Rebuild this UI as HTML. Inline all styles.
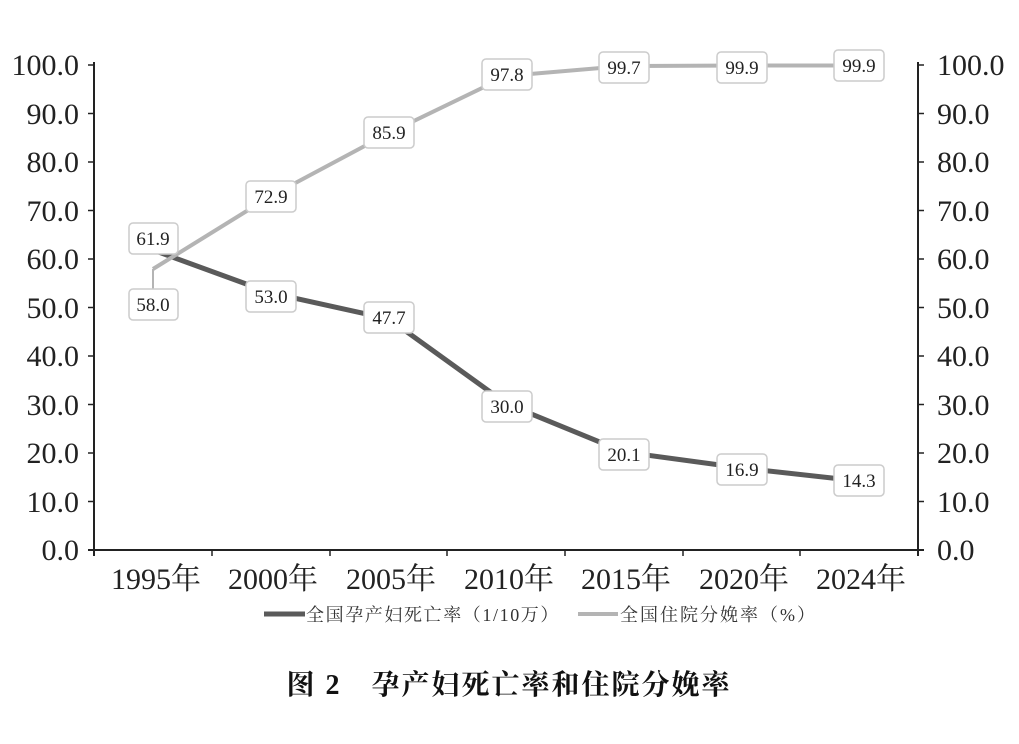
<!DOCTYPE html>
<html><head><meta charset="utf-8"><style>
body{margin:0;background:#fff;width:1019px;height:739px;overflow:hidden}
svg text{font-family:"Liberation Serif","Noto Serif CJK SC",serif}
</style></head><body>
<svg width="1019" height="739" viewBox="0 0 1019 739" xmlns="http://www.w3.org/2000/svg">
<g stroke="#222" stroke-width="2" fill="none">
<line x1="94" y1="62" x2="94" y2="556"/>
<line x1="918" y1="62" x2="918" y2="556"/>
<line x1="88" y1="550" x2="924" y2="550"/>
</g>
<g stroke="#222" stroke-width="1.5">
<line x1="88" y1="65" x2="94" y2="65"/><line x1="88" y1="113.5" x2="94" y2="113.5"/><line x1="88" y1="162" x2="94" y2="162"/><line x1="88" y1="210.5" x2="94" y2="210.5"/><line x1="88" y1="259" x2="94" y2="259"/><line x1="88" y1="307.5" x2="94" y2="307.5"/><line x1="88" y1="356" x2="94" y2="356"/><line x1="88" y1="404.5" x2="94" y2="404.5"/><line x1="88" y1="453" x2="94" y2="453"/><line x1="88" y1="501.5" x2="94" y2="501.5"/>
<line x1="918" y1="65" x2="924" y2="65"/><line x1="918" y1="113.5" x2="924" y2="113.5"/><line x1="918" y1="162" x2="924" y2="162"/><line x1="918" y1="210.5" x2="924" y2="210.5"/><line x1="918" y1="259" x2="924" y2="259"/><line x1="918" y1="307.5" x2="924" y2="307.5"/><line x1="918" y1="356" x2="924" y2="356"/><line x1="918" y1="404.5" x2="924" y2="404.5"/><line x1="918" y1="453" x2="924" y2="453"/><line x1="918" y1="501.5" x2="924" y2="501.5"/>
<line x1="212" y1="550" x2="212" y2="556"/><line x1="330" y1="550" x2="330" y2="556"/><line x1="447" y1="550" x2="447" y2="556"/><line x1="565" y1="550" x2="565" y2="556"/><line x1="683" y1="550" x2="683" y2="556"/><line x1="800" y1="550" x2="800" y2="556"/>
</g>
<g font-size="30" fill="#222" text-anchor="end">
<text x="79" y="75">100.0</text><text x="79" y="124">90.0</text><text x="79" y="172">80.0</text><text x="79" y="221">70.0</text><text x="79" y="269">60.0</text><text x="79" y="318">50.0</text><text x="79" y="366">40.0</text><text x="79" y="415">30.0</text><text x="79" y="463">20.0</text><text x="79" y="512">10.0</text><text x="79" y="560">0.0</text>
</g>
<g font-size="30" fill="#222">
<text x="937" y="75">100.0</text><text x="937" y="124">90.0</text><text x="937" y="172">80.0</text><text x="937" y="221">70.0</text><text x="937" y="269">60.0</text><text x="937" y="318">50.0</text><text x="937" y="366">40.0</text><text x="937" y="415">30.0</text><text x="937" y="463">20.0</text><text x="937" y="512">10.0</text><text x="937" y="560">0.0</text>
</g>
<g font-size="30" fill="#222" text-anchor="middle">
<text x="156" y="589">1995年</text><text x="273" y="589">2000年</text><text x="391" y="589">2005年</text><text x="509" y="589">2010年</text><text x="626" y="589">2015年</text><text x="744" y="589">2020年</text><text x="861" y="589">2024年</text>
</g>
<polyline fill="none" stroke="#5a5a5a" stroke-width="5" points="153,250 271,293 389,319 507,404 624,452 742,468 859,481"/>
<polyline fill="none" stroke="#b4b4b4" stroke-width="4" points="153,269 271,196 389,133 507,76 624,66 742,65.5 859,65.5"/>
<line x1="153" y1="269" x2="153" y2="290" stroke="#b4b4b4" stroke-width="2"/>
<g font-size="19" fill="#222" text-anchor="middle">
<g fill="#fff" stroke="#ccc" stroke-width="1.5">
<rect x="129" y="223" width="49" height="31" rx="4"/><rect x="129" y="289" width="49" height="31" rx="4"/>
<rect x="246" y="181" width="50" height="31" rx="4"/><rect x="364" y="117" width="50" height="31" rx="4"/>
<rect x="482" y="59" width="50" height="31" rx="4"/><rect x="599" y="52" width="50" height="31" rx="4"/>
<rect x="717" y="52" width="50" height="31" rx="4"/><rect x="834" y="50" width="50" height="31" rx="4"/>
<rect x="246" y="281" width="50" height="31" rx="4"/><rect x="364" y="302" width="50" height="31" rx="4"/>
<rect x="482" y="391" width="50" height="31" rx="4"/><rect x="599" y="439" width="50" height="31" rx="4"/>
<rect x="717" y="454" width="50" height="31" rx="4"/><rect x="834" y="465" width="50" height="31" rx="4"/>
</g>
<text x="153" y="245">61.9</text><text x="153" y="311">58.0</text>
<text x="271" y="203">72.9</text><text x="389" y="139">85.9</text>
<text x="507" y="81">97.8</text><text x="624" y="74">99.7</text>
<text x="742" y="74">99.9</text><text x="859" y="72">99.9</text>
<text x="271" y="303">53.0</text><text x="389" y="324">47.7</text>
<text x="507" y="413">30.0</text><text x="624" y="461">20.1</text>
<text x="742" y="476">16.9</text><text x="859" y="487">14.3</text>
</g>
<line x1="264" y1="614" x2="305" y2="614" stroke="#5a5a5a" stroke-width="5"/>
<text x="306" y="621" font-size="18" letter-spacing="1.6" fill="#333">全国孕产妇死亡率（1/10万）</text>
<line x1="578" y1="614" x2="618" y2="614" stroke="#b4b4b4" stroke-width="4"/>
<text x="620" y="621" font-size="18" letter-spacing="2" fill="#333">全国住院分娩率（%）</text>
<text x="509" y="694" font-size="28" letter-spacing="2" font-weight="bold" fill="#111" text-anchor="middle" font-family="Liberation Sans,Noto Sans CJK SC,sans-serif">图 2　孕产妇死亡率和住院分娩率</text>
</svg>
</body></html>
